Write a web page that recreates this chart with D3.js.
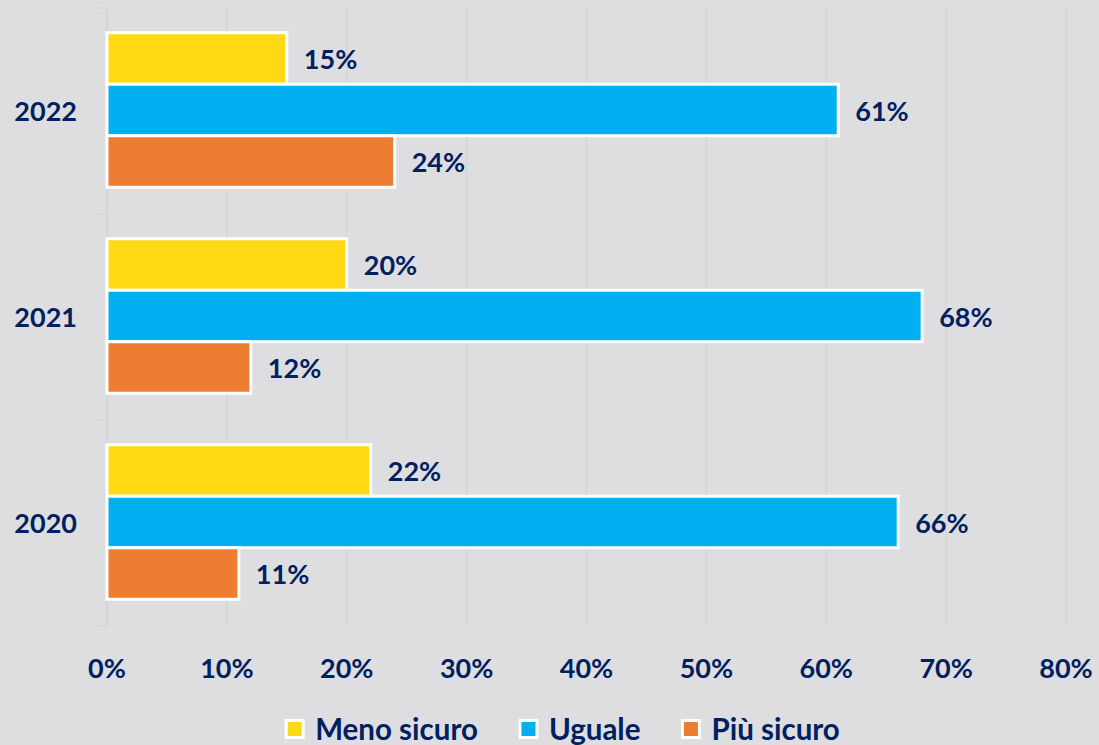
<!DOCTYPE html>
<html>
<head>
<meta charset="utf-8">
<script src="https://cdn.jsdelivr.net/npm/d3@7"></script>
<style>
  html, body { margin: 0; padding: 0; background: #dedee0; }
  svg { display: block; }
  text { font-family: Lato, "Open Sans", sans-serif; font-weight: 700; fill: #002060; }
</style>
</head>
<body>
<div id="chart"></div>
<script>
// data
const years = ["2022", "2021", "2020"];
const seriesNames = ["Meno sicuro", "Uguale", "Più sicuro"];
const menoSicuro = [15, 20, 22];
const uguale = [61, 68, 66];
const piuSicuro = [24, 12, 11];
const xTicks = [0, 10, 20, 30, 40, 50, 60, 70, 80];
const colors = ["#ffd914", "#00b0f0", "#ed7d31"];

const W = 1099, H = 745;
const svg = d3.select("#chart").append("svg")
  .attr("width", W).attr("height", H);

svg.append("rect").attr("width", W).attr("height", H).attr("fill", "#dedee0");

const x = d3.scaleLinear().domain([0, 80]).range([107, 1066]);
const y = d3.scaleBand().domain(years).range([8, 626]).padding(0);
const ySub = d3.scaleBand().domain(seriesNames)
  .range([0, y.bandwidth()]).paddingOuter(0.5).paddingInner(0);

// gridlines
svg.append("g")
  .selectAll("line")
  .data(xTicks)
  .join("line")
    .attr("x1", d => x(d)).attr("x2", d => x(d))
    .attr("y1", 8).attr("y2", 626)
    .attr("stroke", "#d2d2d5")
    .attr("stroke-width", 1);

// category axis: line + ticks between bands
const catTicks = [8].concat(years.map(d => y(d) + y.bandwidth()));
svg.append("line")
  .attr("x1", x(0)).attr("x2", x(0))
  .attr("y1", 8).attr("y2", 626)
  .attr("stroke", "#d2d2d5");
svg.append("g")
  .selectAll("line")
  .data(catTicks)
  .join("line")
    .attr("x1", x(0) - 10).attr("x2", x(0))
    .attr("y1", d => d).attr("y2", d => d)
    .attr("stroke", "#d2d2d5");

svg.append("g")
  .selectAll("text")
  .data(years)
  .join("text")
    .attr("x", 77)
    .attr("y", d => y(d) + y.bandwidth() / 2)
    .attr("dy", "0.36em")
    .attr("text-anchor", "end")
    .attr("font-size", 27)
    .text(d => d);

// x axis labels
svg.append("g")
  .selectAll("text")
  .data(xTicks)
  .join("text")
    .attr("x", d => x(d))
    .attr("y", 668)
    .attr("dy", "0.36em")
    .attr("text-anchor", "middle")
    .attr("font-size", 27)
    .text(d => d + "%");

// bars
const rows = [];
years.forEach((yr, i) => {
  [menoSicuro, uguale, piuSicuro].forEach((arr, j) => {
    rows.push({ year: yr, series: seriesNames[j], value: arr[i], color: colors[j] });
  });
});

const bars = svg.append("g");
bars.selectAll("rect")
  .data(rows)
  .join("rect")
    .attr("x", x(0))
    .attr("y", d => y(d.year) + ySub(d.series) - 1)
    .attr("width", d => x(d.value) - x(0))
    .attr("height", ySub.bandwidth())
    .attr("fill", d => d.color)
    .attr("stroke", "#ffffff")
    .attr("stroke-width", 3);

bars.selectAll("text")
  .data(rows)
  .join("text")
    .attr("x", d => x(d.value) + 17)
    .attr("y", d => y(d.year) + ySub(d.series) + ySub.bandwidth() / 2)
    .attr("dy", "0.36em")
    .attr("font-size", 27)
    .text(d => d.value + "%");

// legend
const legend = svg.append("g");
const items = legend.selectAll("g")
  .data(seriesNames)
  .join("g");
items.append("rect")
  .attr("width", 17).attr("height", 17)
  .attr("y", -8.5)
  .attr("fill", (d, i) => colors[i])
  .attr("stroke", "#ffffff")
  .attr("stroke-width", 3);
items.append("text")
  .attr("x", 29)
  .attr("dy", "0.36em")
  .attr("font-size", 29.5)
  .text(d => d);

let lx = 0;
const offsets = [];
items.each(function() {
  offsets.push(lx);
  lx += this.getBBox().width + 42;
});
const total = lx - 42;
const start = 563 - total / 2;
items.attr("transform", (d, i) => `translate(${start + offsets[i]},729)`);
</script>
</body>
</html>
